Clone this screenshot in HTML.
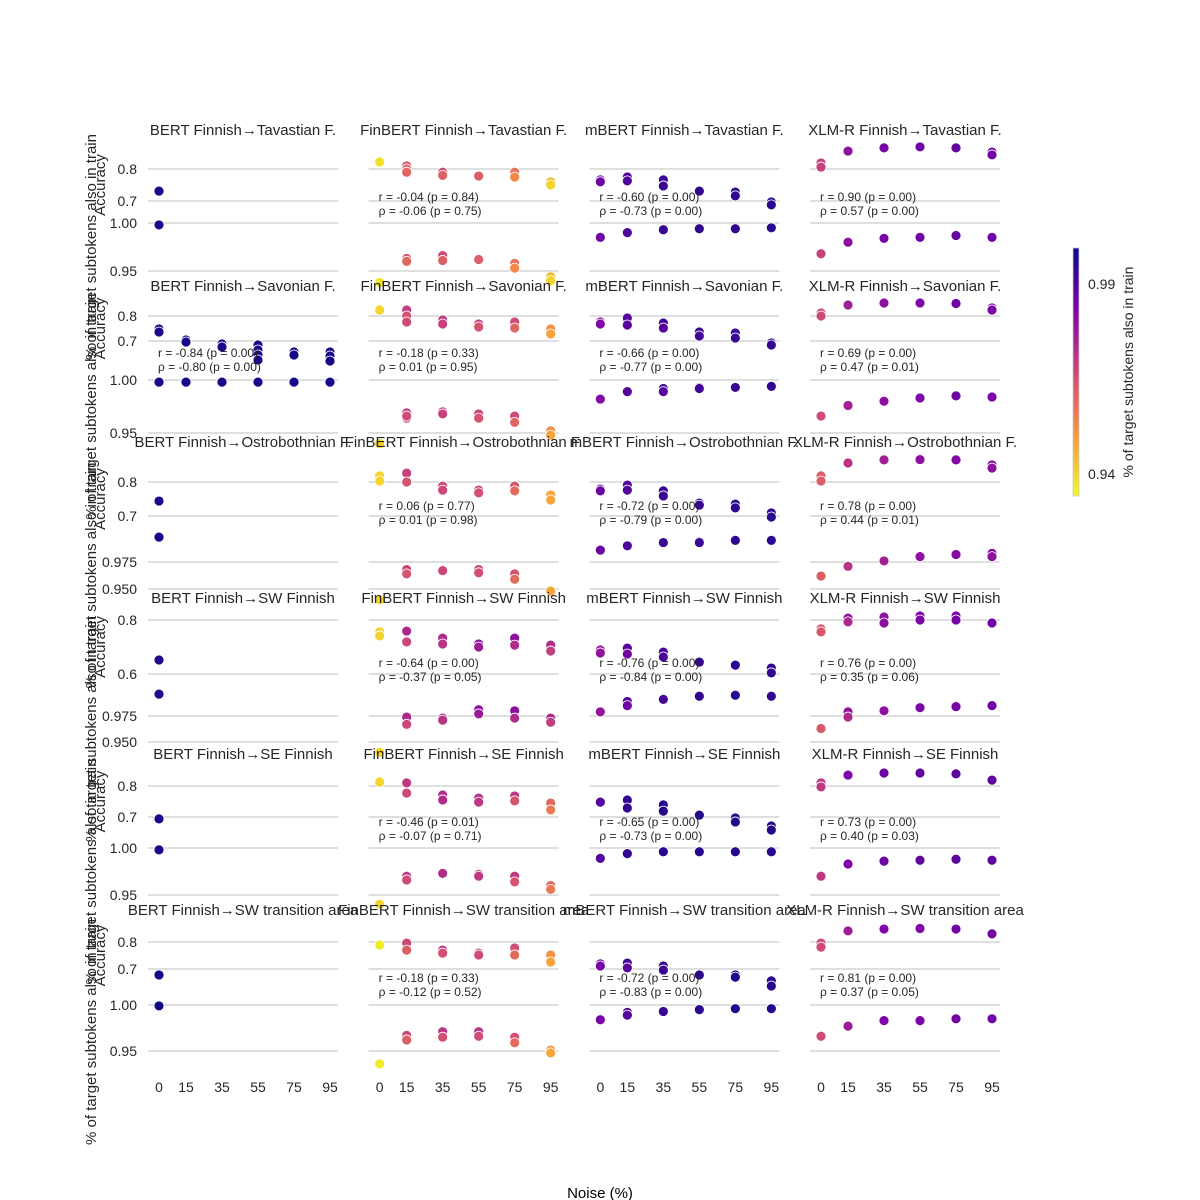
<!DOCTYPE html>
<html><head><meta charset="utf-8"><style>
html,body{margin:0;padding:0;background:#fff;}
svg{display:block;font-family:"Liberation Sans",Arial,sans-serif;}
</style></head><body>
<svg id="chart" width="1200" height="1200" viewBox="0 0 1200 1200" xmlns="http://www.w3.org/2000/svg">
<defs>
<linearGradient id="plasma" x1="0" y1="1" x2="0" y2="0">
<stop offset="0" stop-color="#f0f921"/><stop offset="0.25" stop-color="#f89540"/><stop offset="0.5" stop-color="#cc4778"/><stop offset="0.75" stop-color="#7e03a8"/><stop offset="1" stop-color="#0d0887"/>
</linearGradient>
</defs>
<rect x="1073" y="248" width="6" height="248" fill="url(#plasma)" stroke="#ccc" stroke-width="0.8"/>
<text x="1088" y="289" font-size="14" fill="#262626">0.99</text>
<text x="1088" y="479" font-size="14" fill="#262626">0.94</text>
<text transform="translate(1133,372) rotate(-90)" text-anchor="middle" font-size="14" fill="#262626">% of target subtokens also in train</text>
<text x="600" y="1198" text-anchor="middle" font-size="15" fill="#000">Noise (%)</text>
</svg>
<script>
const models = ["BERT Finnish","FinBERT Finnish","mBERT Finnish","XLM-R Finnish"];
const targets = ["Tavastian F.","Savonian F.","Ostrobothnian F.","SW Finnish","SE Finnish","SW transition area"];
const xTicks = [0,15,35,55,75,95];
const topTickVals = [[0.8,0.7],[0.8,0.7],[0.8,0.7],[0.8,0.6],[0.8,0.7],[0.8,0.7]];
const topTickLabels = [["0.8","0.7"],["0.8","0.7"],["0.8","0.7"],["0.8","0.6"],["0.8","0.7"],["0.8","0.7"]];
const botTickVals = [[1.0,0.95],[1.0,0.95],[0.975,0.95],[0.975,0.95],[1.0,0.95],[1.0,0.95]];
const botTickLabels = [["1.00","0.95"],["1.00","0.95"],["0.975","0.950"],["0.975","0.950"],["1.00","0.95"],["1.00","0.95"]];
const noiseData = [
 [[0],[0,15,15,15,35,35,55,75,75,95,95],[0,0,15,15,35,35,55,75,75,95,95],[0,0,15,35,55,75,95,95]],
 [[0,0,15,15,35,35,55,55,55,55,75,75,95,95,95],[0,15,15,15,35,35,55,55,75,75,95,95],[0,0,15,15,35,35,55,55,75,75,95,95],[0,0,15,35,55,75,95,95]],
 [[0],[0,0,15,15,35,35,55,55,75,75,95,95],[0,0,15,15,35,35,55,55,75,75,95,95],[0,0,15,35,55,75,95,95]],
 [[0],[0,0,15,15,35,35,55,55,75,75,95,95],[0,0,15,15,35,35,55,75,95,95],[0,0,15,15,35,35,55,55,75,75,95]],
 [[0],[0,15,15,35,35,55,55,75,75,95,95],[0,15,15,35,35,55,75,75,95,95],[0,0,15,35,55,75,95]],
 [[0],[0,15,15,35,35,55,55,75,75,95,95],[0,0,15,15,35,35,55,75,75,95,95],[0,0,15,35,55,75,95]]
];
const accData = [
 [[0.731],[0.822,0.81,0.80,0.79,0.79,0.78,0.778,0.79,0.775,0.76,0.75],[0.766,0.76,0.775,0.763,0.766,0.747,0.731,0.728,0.716,0.697,0.688],[0.819,0.806,0.856,0.866,0.869,0.866,0.853,0.844]],
 [[0.748,0.736,0.704,0.696,0.688,0.676,0.684,0.664,0.644,0.624,0.656,0.644,0.656,0.64,0.62],[0.824,0.824,0.8,0.776,0.784,0.768,0.768,0.756,0.776,0.752,0.748,0.728],[0.776,0.768,0.792,0.764,0.772,0.752,0.736,0.72,0.732,0.712,0.692,0.684],[0.812,0.8,0.844,0.852,0.852,0.85,0.832,0.824]],
 [[0.744],[0.818,0.803,0.826,0.8,0.788,0.776,0.776,0.768,0.788,0.774,0.762,0.747],[0.779,0.774,0.791,0.776,0.774,0.759,0.738,0.732,0.735,0.724,0.709,0.697],[0.818,0.803,0.856,0.865,0.866,0.865,0.85,0.841]],
 [[0.652],[0.756,0.741,0.759,0.719,0.733,0.711,0.711,0.7,0.733,0.707,0.707,0.685],[0.689,0.678,0.696,0.674,0.681,0.663,0.644,0.633,0.622,0.604],[0.767,0.756,0.807,0.793,0.811,0.789,0.815,0.8,0.815,0.8,0.789]],
 [[0.694],[0.813,0.81,0.777,0.771,0.755,0.761,0.748,0.768,0.752,0.745,0.723],[0.748,0.755,0.729,0.739,0.719,0.706,0.697,0.684,0.671,0.658],[0.81,0.797,0.835,0.842,0.842,0.839,0.819]],
 [[0.678],[0.789,0.796,0.77,0.77,0.759,0.759,0.752,0.778,0.752,0.752,0.726],[0.719,0.711,0.722,0.704,0.711,0.696,0.678,0.678,0.67,0.656,0.637],[0.796,0.781,0.841,0.848,0.85,0.848,0.83]]
];
const subData = [
 [[0.998],[0.938,0.963,0.96,0.96,0.966,0.961,0.962,0.958,0.953,0.944,0.94],[0.985,0.985,0.99,0.99,0.993,0.993,0.994,0.994,0.994,0.995,0.995],[0.968,0.968,0.98,0.984,0.985,0.987,0.985,0.985]],
 [[0.998,0.998,0.998,0.998,0.998,0.998,0.998,0.998,0.998,0.998,0.998,0.998,0.998,0.998,0.998],[0.94,0.969,0.964,0.966,0.97,0.968,0.968,0.964,0.966,0.96,0.952,0.948],[0.982,0.982,0.989,0.989,0.992,0.989,0.993,0.992,0.993,0.993,0.994,0.994],[0.966,0.966,0.976,0.98,0.983,0.985,0.984,0.984]],
 [[0.998],[0.94,0.94,0.968,0.964,0.967,0.967,0.968,0.965,0.964,0.959,0.948,0.948],[0.986,0.986,0.99,0.99,0.993,0.993,0.994,0.993,0.995,0.995,0.995,0.995],[0.962,0.962,0.971,0.976,0.98,0.982,0.983,0.98]],
 [[0.996],[0.94,0.94,0.974,0.967,0.973,0.971,0.981,0.977,0.98,0.973,0.973,0.969],[0.979,0.979,0.989,0.985,0.991,0.991,0.994,0.995,0.994,0.994],[0.963,0.963,0.979,0.974,0.98,0.98,0.983,0.983,0.984,0.984,0.985]],
 [[0.998],[0.94,0.97,0.966,0.973,0.973,0.972,0.97,0.97,0.964,0.96,0.956],[0.989,0.994,0.994,0.996,0.996,0.996,0.996,0.996,0.996,0.996],[0.97,0.97,0.983,0.986,0.987,0.988,0.987]],
 [[0.999],[0.936,0.967,0.962,0.971,0.965,0.971,0.966,0.965,0.959,0.951,0.948],[0.984,0.984,0.992,0.989,0.993,0.993,0.995,0.996,0.996,0.996,0.996],[0.966,0.966,0.977,0.983,0.983,0.985,0.985]]
];
const pearsonText = [
 [null,"r = -0.04 (p = 0.84)","r = -0.60 (p = 0.00)","r = 0.90 (p = 0.00)"],
 ["r = -0.84 (p = 0.00)","r = -0.18 (p = 0.33)","r = -0.66 (p = 0.00)","r = 0.69 (p = 0.00)"],
 [null,"r = 0.06 (p = 0.77)","r = -0.72 (p = 0.00)","r = 0.78 (p = 0.00)"],
 [null,"r = -0.64 (p = 0.00)","r = -0.76 (p = 0.00)","r = 0.76 (p = 0.00)"],
 [null,"r = -0.46 (p = 0.01)","r = -0.65 (p = 0.00)","r = 0.73 (p = 0.00)"],
 [null,"r = -0.18 (p = 0.33)","r = -0.72 (p = 0.00)","r = 0.81 (p = 0.00)"]
];
const spearmanText = [
 [null,"ρ = -0.06 (p = 0.75)","ρ = -0.73 (p = 0.00)","ρ = 0.57 (p = 0.00)"],
 ["ρ = -0.80 (p = 0.00)","ρ = 0.01 (p = 0.95)","ρ = -0.77 (p = 0.00)","ρ = 0.47 (p = 0.01)"],
 [null,"ρ = 0.01 (p = 0.98)","ρ = -0.79 (p = 0.00)","ρ = 0.44 (p = 0.01)"],
 [null,"ρ = -0.37 (p = 0.05)","ρ = -0.84 (p = 0.00)","ρ = 0.35 (p = 0.06)"],
 [null,"ρ = -0.07 (p = 0.71)","ρ = -0.73 (p = 0.00)","ρ = 0.40 (p = 0.03)"],
 [null,"ρ = -0.12 (p = 0.52)","ρ = -0.83 (p = 0.00)","ρ = 0.37 (p = 0.05)"]
];
// layout: tick pixel positions per row
const topTickPx = [[169,201],[316,341],[482,516],[620,674],[786,817],[942,969]];
const botTickPx = [[223,271],[380,433],[562,589],[716,742],[848,895],[1005,1051]];
const textY = [197,353,506,663,822,978];
const NS = "http://www.w3.org/2000/svg";
const svg = document.getElementById('chart');
function mk(tag, attrs, parent){const e=document.createElementNS(NS,tag);for(const k in attrs)e.setAttribute(k,attrs[k]);(parent||svg).appendChild(e);return e;}
function xScale(c,v){return 159 + c*220.67 + v*1.8;}
function linScale(v,t,p){return p[0] + (v-t[0])*(p[1]-p[0])/(t[1]-t[0]);}
const stops=[[13,8,135],[126,3,168],[204,71,120],[248,149,64],[240,249,33]];
function plasma(u){u=Math.max(0,Math.min(1,u));const s=u*4,i=Math.min(3,Math.floor(s)),f=s-i;const a=stops[i],b=stops[i+1];return 'rgb('+a.map((x,k)=>Math.round(x+(b[k]-x)*f)).join(',')+')';}
function colorFor(v){const t=(v-0.934)/(0.9995-0.934);return plasma(1-t);}
for(let r=0;r<6;r++){
  for(let c=0;c<4;c++){
    const g=mk('g',{});
    
    
    const x0=148+c*220.67, x1=x0+190;
    for(let k=0;k<2;k++){
      const ly=linScale(topTickVals[r][k],topTickVals[r],topTickPx[r]);
      const l=mk('line',{x1:x0,x2:x1,y1:ly,y2:ly,stroke:'#cccccc','stroke-width':1.2},g);
      
      
      const by=linScale(botTickVals[r][k],botTickVals[r],botTickPx[r]);
      const l2=mk('line',{x1:x0,x2:x1,y1:by,y2:by,stroke:'#cccccc','stroke-width':1.2},g);
      
      
      if(c===0){
        const t1=mk('text',{x:137,y:ly+5,'text-anchor':'end','font-size':14,fill:'#262626'},g);t1.textContent=topTickLabels[r][k];
        
        
        const t2=mk('text',{x:137,y:by+5,'text-anchor':'end','font-size':14,fill:'#262626'},g);t2.textContent=botTickLabels[r][k];
        
        
      }
    }
    const ns=noiseData[r][c], ac=accData[r][c], sb=subData[r][c];
    for(let i=0;i<ns.length;i++){
      const col=colorFor(sb[i]);
      const p1=mk('circle',{cx:xScale(c,ns[i]),cy:linScale(ac[i],topTickVals[r],topTickPx[r]),r:5,fill:col,stroke:'#fff','stroke-width':0.8},g);
      
      
      const p2=mk('circle',{cx:xScale(c,ns[i]),cy:linScale(sb[i],botTickVals[r],botTickPx[r]),r:5,fill:col,stroke:'#fff','stroke-width':0.8},g);
      
      
    }
    const ti=mk('text',{x:x0+95,y:135+r*156,'text-anchor':'middle','font-size':15,fill:'#262626'},g);
    ti.textContent=models[c]+'→'+targets[r];
    
    
    if(pearsonText[r][c]){
      const a=mk('text',{x:x0+10,y:textY[r]+4,'font-size':12,fill:'#262626'},g);a.textContent=pearsonText[r][c];
      
      
      const b=mk('text',{x:x0+10,y:textY[r]+18,'font-size':12,fill:'#262626'},g);b.textContent=spearmanText[r][c];
      
      
    }
    if(r===5){
      for(const v of xTicks){
        const t=mk('text',{x:xScale(c,v),y:1092,'text-anchor':'middle','font-size':14,fill:'#262626'},g);t.textContent=v;
        
        
      }
    }
  }
  const ay=(topTickPx[r][0]+topTickPx[r][1])/2;
  const a=mk('text',{transform:'translate(105,'+ay+') rotate(-90)','text-anchor':'middle','font-size':15,fill:'#262626'});
  a.textContent='Accuracy';
  
  
  const sy=(botTickPx[r][0]+botTickPx[r][1])/2 + (r===5?4:0);
  const s=mk('text',{transform:'translate(96,'+sy+') rotate(-90)','text-anchor':'middle','font-size':15,fill:'#262626'});
  s.textContent='% of target subtokens also in train';
  
  
}
</script>
</body></html>
